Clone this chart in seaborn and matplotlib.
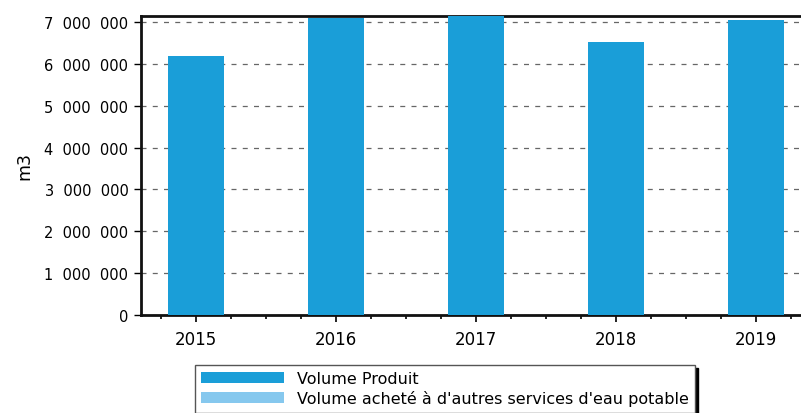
import pandas as pd
import seaborn as sns
import matplotlib.pyplot as plt
from matplotlib.ticker import FuncFormatter, MultipleLocator

# Valeurs (m3)
annees = ["2015", "2016", "2017", "2018", "2019"]
volume_produit = [6200000, 7100000, 7250000, 6530000, 7060000]
volume_achete = [0, 0, 0, 0, 0]
series = ["Volume Produit", "Volume acheté à d'autres services d'eau potable"]

df = pd.DataFrame({
    "annee": annees * 2,
    "volume": volume_produit + volume_achete,
    "serie": [series[0]] * len(annees) + [series[1]] * len(annees),
})

sns.set_style("white")
plt.rcParams["font.family"] = ["DejaVu Sans"]
plt.rcParams["text.color"] = "black"
plt.rcParams["axes.labelcolor"] = "black"
plt.rcParams["xtick.color"] = "black"
plt.rcParams["ytick.color"] = "black"

fig = plt.figure(figsize=(8.01, 4.14), dpi=100)
ax = fig.add_axes([0.176, 0.237, 0.873, 0.722])

sns.barplot(data=df, x="annee", y="volume", hue="serie", dodge=False,
            palette=["#1A9ED8", "#86C8EE"], width=0.4, saturation=1,
            linewidth=0, ax=ax, zorder=3)

ax.set_ylim(0, 7150000)
ax.set_xlim(-0.39, 4.6)
ax.yaxis.set_major_locator(MultipleLocator(1000000))
# separateur de milliers large, comme sur l'original
ax.yaxis.set_major_formatter(FuncFormatter(lambda v, p: f"{int(v):,}".replace(",", "  ")))
ax.xaxis.set_minor_locator(MultipleLocator(0.25))

ax.grid(axis="y", linestyle=(0, (4, 5)), color="#666666", linewidth=0.9, zorder=0)
ax.set_axisbelow(True)

for s in ["left", "bottom", "top"]:
    ax.spines[s].set_linewidth(2)
    ax.spines[s].set_color("#111111")

ax.tick_params(axis="y", which="major", direction="out", length=5, width=1,
               left=True, labelsize=10.5, pad=4)
ax.tick_params(axis="x", which="major", direction="out", length=5, width=1.2,
               bottom=True, labelsize=12, pad=6)
ax.tick_params(axis="x", which="minor", direction="out", length=3, width=1.2,
               bottom=True)

ax.set_xlabel("")
ax.set_ylabel("m3", fontsize=12.5, labelpad=8)

handles, labels = ax.get_legend_handles_labels()
ax.legend(handles, labels, loc="upper left",
          bbox_to_anchor=(195 / 801, 1 - 366 / 414), bbox_transform=fig.transFigure,
          frameon=True, fancybox=False, edgecolor="#555555", framealpha=1,
          shadow={"color": "black", "alpha": 1}, fontsize=11.5,
          handlelength=5.2, handleheight=0.7, handletextpad=0.8,
          borderpad=0.4, labelspacing=0.25, borderaxespad=0)

fig.savefig("out.png", dpi=100)
